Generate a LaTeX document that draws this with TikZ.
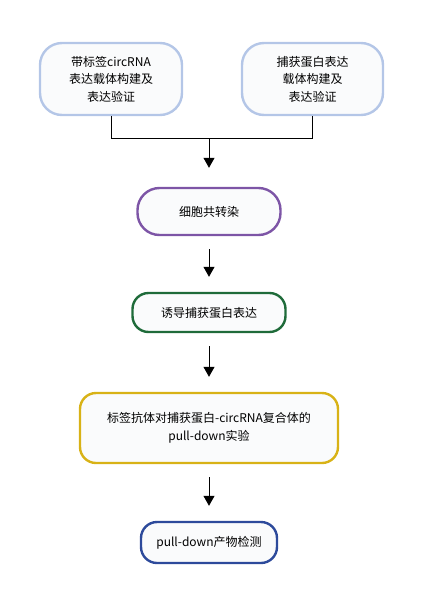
\documentclass[tikz,border=0pt]{standalone}
\usepackage{fontspec}
\newfontfamily\cjk{Noto Sans CJK SC}
\usetikzlibrary{arrows.meta}
\definecolor{lightblueline}{HTML}{B4C6E7}
\definecolor{purpleline}{HTML}{7D55A6}
\definecolor{greenline}{HTML}{1F6B3A}
\definecolor{goldline}{HTML}{D8B216}
\definecolor{navyline}{HTML}{2D4A9B}
\definecolor{boxfill}{HTML}{FAFBFC}
\tikzset{
  stepbox/.style={draw, line width=2.4pt, fill=boxfill, rounded corners=16pt, align=center,
    font=\cjk\fontsize{12}{17.5}\selectfont, inner sep=0pt},
  flowarrow/.style={-{Triangle[width=11pt,length=10pt]}, line width=1pt, shorten <=13pt, shorten >=15pt},
  joinline/.style={line width=1pt}
}
\begin{document}
\begin{tikzpicture}[x=1pt,y=-1pt]
                \useasboundingbox (0,0) rectangle (424,600);
                % Two constructs at the top
                \node[stepbox, draw=lightblueline, rounded corners=22pt, minimum width=142pt, minimum height=72pt] (tagvec) at (111,79) {带标签circRNA\\表达载体构建及\\表达验证};
                \node[stepbox, draw=lightblueline, rounded corners=22pt, minimum width=141pt, minimum height=72pt] (capvec) at (312.5,79) {捕获蛋白表达\\载体构建及\\表达验证};
                
                % Main steps
                \node[stepbox, draw=purpleline, rounded corners=22pt, minimum width=143pt, minimum height=47pt] (cotrans) at (209,211.5) {细胞共转染};
                \node[stepbox, draw=greenline, minimum width=153pt, minimum height=39pt] (induce) at (209,312.5) {诱导捕获蛋白表达};
                \node[stepbox, draw=goldline, minimum width=258pt, minimum height=70pt] (pulldown) at (209,428) {标签抗体对捕获蛋白-circRNA复合体的\\pull-down实验};
                \node[stepbox, draw=navyline, minimum width=136pt, minimum height=41pt] (detect) at (209,542.5) {pull-down产物检测};
                
                % Join of the two branches
                \coordinate (join) at (209,138);
                \draw[joinline] (tagvec.south) |- (join);
                \draw[joinline] (capvec.south) |- (join);
                \draw[flowarrow, shorten <=0pt, shorten >=19pt] (join) -- (cotrans.north);
                
                % Arrows down the chain
                \draw[flowarrow] (cotrans) -- (induce);
                \draw[flowarrow] (induce) -- (pulldown);
                \draw[flowarrow] (pulldown) -- (detect);
            \end{tikzpicture}
\end{document}
